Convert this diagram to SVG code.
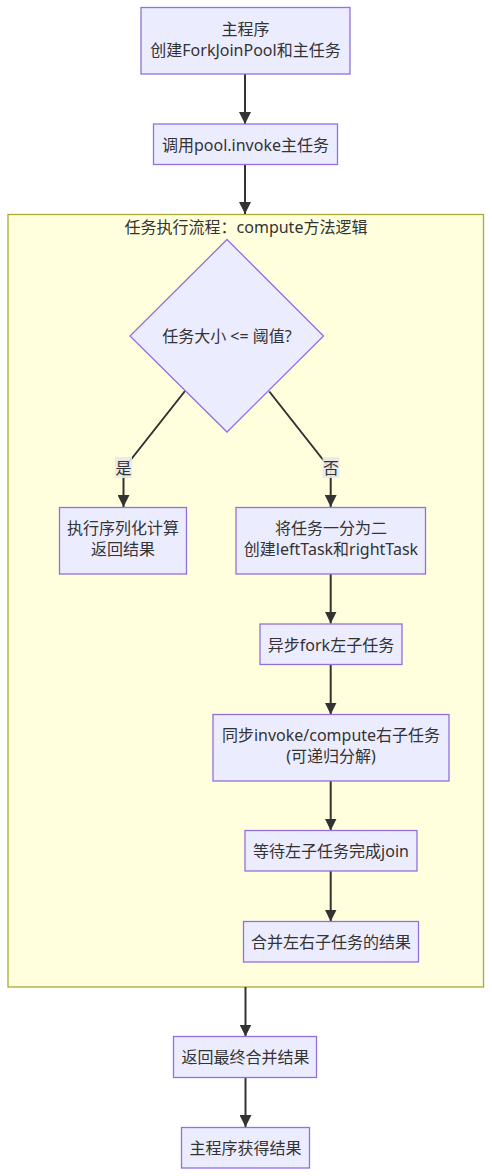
<svg xmlns="http://www.w3.org/2000/svg" width="492" height="1176" viewBox="0 0 492 1176">
<defs>
<marker id="arr" markerUnits="userSpaceOnUse" markerWidth="12" markerHeight="12" refX="12" refY="6" orient="auto">
<path d="M0,0 L12,6 L0,12 z" fill="#333333"/>
</marker>
<style>
.node rect, .node polygon { fill: #ECECFF; stroke: #9370DB; stroke-width: 1.3; }
text { font-family: "Noto Sans", "Noto Sans CJK SC", sans-serif; font-size: 16px; fill: #333333; text-anchor: middle; dominant-baseline: central; }
.edge { fill: none; stroke: #333333; stroke-width: 2; marker-end: url(#arr); }
.lbl { fill: #e8e8e8; opacity: 0.9; }
.cluster rect { fill: #ffffde; stroke: #aaaa33; stroke-width: 1.3; }
</style>
</defs>
<rect width="492" height="1176" fill="#ffffff"/>
<g id="cluster" class="cluster">
<rect x="8" y="214.5" width="475.5" height="772.5"/>
<text x="246" y="226.5">任务执行流程：compute方法逻辑</text>
</g>
<g id="connectors">
<path class="edge" d="M245,74 L245,124"/>
<path class="edge" d="M245,164.5 L245,214"/>
<path class="edge" d="M185,391 L123.5,469 L123.5,507"/>
<path class="edge" d="M269.3,391.5 L330.7,469.5 L330.7,507"/>
<path class="edge" d="M330.7,574 L330.7,623.5"/>
<path class="edge" d="M330.7,664.5 L330.7,714.5"/>
<path class="edge" d="M330.7,781 L330.7,830.5"/>
<path class="edge" d="M330.7,871 L330.7,921.5"/>
<path class="edge" d="M245.5,987 L245.5,1036.5"/>
<path class="edge" d="M245.5,1078 L245.5,1127"/>
<rect class="lbl" x="115" y="457" width="17" height="21"/>
<text x="123.5" y="467.5">是</text>
<rect class="lbl" x="322.5" y="457" width="17" height="21"/>
<text x="331" y="467.5">否</text>
</g>
<g id="n1" class="node">
<rect x="141" y="7.5" width="209" height="66.5"/>
<text x="245.5" y="28.5">主程序</text>
<text x="245.5" y="49.5">创建ForkJoinPool和主任务</text>
</g>
<g id="n2" class="node">
<rect x="153.5" y="124" width="184" height="40.5"/>
<text x="245.5" y="144.5">调用pool.invoke主任务</text>
</g>
<g id="n3" class="node">
<polygon points="227,239.5 323.5,336 227,432 130,336"/>
<text x="227" y="336">任务大小 &lt;= 阈值?</text>
</g>
<g id="n4" class="node">
<rect x="59.5" y="507.5" width="127" height="66.5"/>
<text x="123" y="527.5">执行序列化计算</text>
<text x="123" y="548.5">返回结果</text>
</g>
<g id="n5" class="node">
<rect x="236" y="507.5" width="189.5" height="66.5"/>
<text x="331" y="527.5">将任务一分为二</text>
<text x="331" y="548.5">创建leftTask和rightTask</text>
</g>
<g id="n6" class="node">
<rect x="260" y="624" width="142" height="40.5"/>
<text x="331" y="644.5">异步fork左子任务</text>
</g>
<g id="n7" class="node">
<rect x="213" y="714.5" width="236" height="66.5"/>
<text x="331" y="735">同步invoke/compute右子任务</text>
<text x="331" y="756">(可递归分解)</text>
</g>
<g id="n8" class="node">
<rect x="245" y="830.5" width="172" height="40.5"/>
<text x="331" y="851">等待左子任务完成join</text>
</g>
<g id="n9" class="node">
<rect x="243.5" y="921.5" width="175" height="40.5"/>
<text x="331" y="942">合并左右子任务的结果</text>
</g>
<g id="n10" class="node">
<rect x="173.5" y="1036.5" width="143" height="41"/>
<text x="245.5" y="1057">返回最终合并结果</text>
</g>
<g id="n11" class="node">
<rect x="181.5" y="1127.5" width="128" height="40.5"/>
<text x="245.5" y="1148">主程序获得结果</text>
</g>
</svg>
